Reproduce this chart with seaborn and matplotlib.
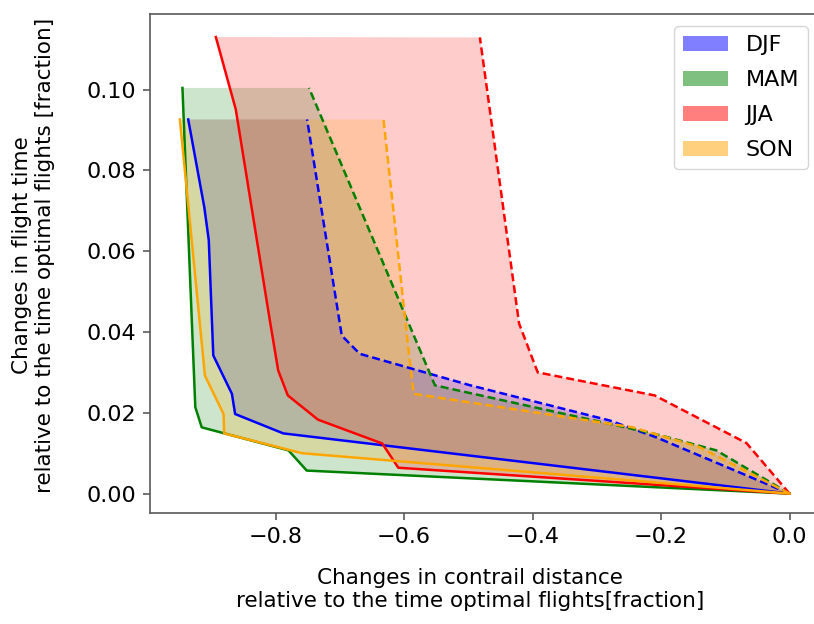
import matplotlib
matplotlib.use("Agg")
import matplotlib.pyplot as plt
import numpy as np
import pandas as pd
import seaborn as sns
from matplotlib.patches import Patch

# Seasons and their colours
seasons = ["DJF", "MAM", "JJA", "SON"]
season_colors = ["blue", "green", "red", "orange"]

# Lower edge of each band (largest contrail reduction) -- solid lines
djf_low_x = [0.0, -0.788, -0.863, -0.868, -0.897, -0.904, -0.911, -0.936]
djf_low_y = [0.0, 0.0149, 0.0197, 0.0247, 0.0342, 0.0627, 0.0709, 0.0926]
mam_low_x = [0.0, -0.7515, -0.780, -0.915, -0.925, -0.945]
mam_low_y = [0.0, 0.0057, 0.0107, 0.0164, 0.0214, 0.1004]
jja_low_x = [0.0, -0.609, -0.634, -0.734, -0.781, -0.796, -0.809, -0.862, -0.893]
jja_low_y = [0.0, 0.0064, 0.0124, 0.0183, 0.0243, 0.0305, 0.0429, 0.0951, 0.1130]
son_low_x = [0.0, -0.759, -0.880, -0.881, -0.910, -0.949]
son_low_y = [0.0, 0.0100, 0.0149, 0.0197, 0.0292, 0.0926]

# Upper edge of each band (smallest contrail reduction) -- dashed lines
djf_high_x = [0.0, -0.207, -0.280, -0.497, -0.669, -0.697, -0.751]
djf_high_y = [0.0, 0.0139, 0.0181, 0.0268, 0.0346, 0.0391, 0.0926]
mam_high_x = [0.0, -0.114, -0.210, -0.552, -0.748]
mam_high_y = [0.0, 0.0107, 0.0148, 0.0268, 0.1004]
jja_high_x = [0.0, -0.067, -0.210, -0.392, -0.421, -0.482]
jja_high_y = [0.0, 0.0125, 0.0243, 0.0300, 0.0421, 0.1129]
son_high_x = [0.0, -0.140, -0.244, -0.585, -0.593, -0.632]
son_high_y = [0.0, 0.0115, 0.0164, 0.0247, 0.0354, 0.0926]

x_ticks = [-0.8, -0.6, -0.4, -0.2, 0.0]
y_ticks = [0.00, 0.02, 0.04, 0.06, 0.08, 0.10]

bands = {
    "DJF": (djf_low_x, djf_low_y, djf_high_x, djf_high_y),
    "MAM": (mam_low_x, mam_low_y, mam_high_x, mam_high_y),
    "JJA": (jja_low_x, jja_low_y, jja_high_x, jja_high_y),
    "SON": (son_low_x, son_low_y, son_high_x, son_high_y),
}

plt.rcParams["font.family"] = ["DejaVu Sans"]

W, H = 814, 624
fig = plt.figure(figsize=(W / 100, H / 100), dpi=100)
ax = fig.add_axes([150 / W, 1 - 513 / H, 670 / W, 499 / H])

for name, color in zip(seasons, season_colors):
    lx, ly, hx, hy = bands[name]
    # shaded band between the two edges
    poly_x = np.concatenate([lx, hx[::-1]])
    poly_y = np.concatenate([ly, hy[::-1]])
    ax.fill(poly_x, poly_y, color=color, alpha=0.2, linewidth=0)
    low = pd.DataFrame({"x": lx, "y": ly})
    high = pd.DataFrame({"x": hx, "y": hy})
    sns.lineplot(data=low, x="x", y="y", sort=False, estimator=None,
                 color=color, linewidth=1.8, ax=ax)
    sns.lineplot(data=high, x="x", y="y", sort=False, estimator=None,
                 color=color, linewidth=1.8, linestyle=(0, (3.2, 1.6)), ax=ax)

ax.set_xlim(-0.9955, 0.0474)
ax.set_ylim(-0.0048, 0.1187)
ax.set_xticks(x_ticks)
ax.set_yticks(y_ticks)
ax.set_yticklabels([f"{v:.2f}" for v in y_ticks])
ax.set_xticklabels([f"{v:.1f}".replace("-", "\u2212") for v in x_ticks])
ax.tick_params(labelsize=16, length=5, width=1.1, color="0.3", pad=5)
for sp in ax.spines.values():
    sp.set_color("0.35")
    sp.set_linewidth(1.2)

ax.set_xlabel("Changes in contrail distance\nrelative to the time optimal flights[fraction]",
              fontsize=15.5)
ax.set_ylabel("Changes in flight time\nrelative to the time optimal flights [fraction]",
              fontsize=15.5)
ax.xaxis.set_label_coords((470 - 150) / 670, (513 - 568) / 499)
ax.yaxis.set_label_coords((55 - 150) / 670, 0.517)

handles = [Patch(facecolor=c, alpha=0.5) for c in season_colors]
ax.legend(handles, seasons, loc="upper right", fontsize=16, labelspacing=0.68,
          borderaxespad=0.55)

fig.savefig("out.png", dpi=100)
